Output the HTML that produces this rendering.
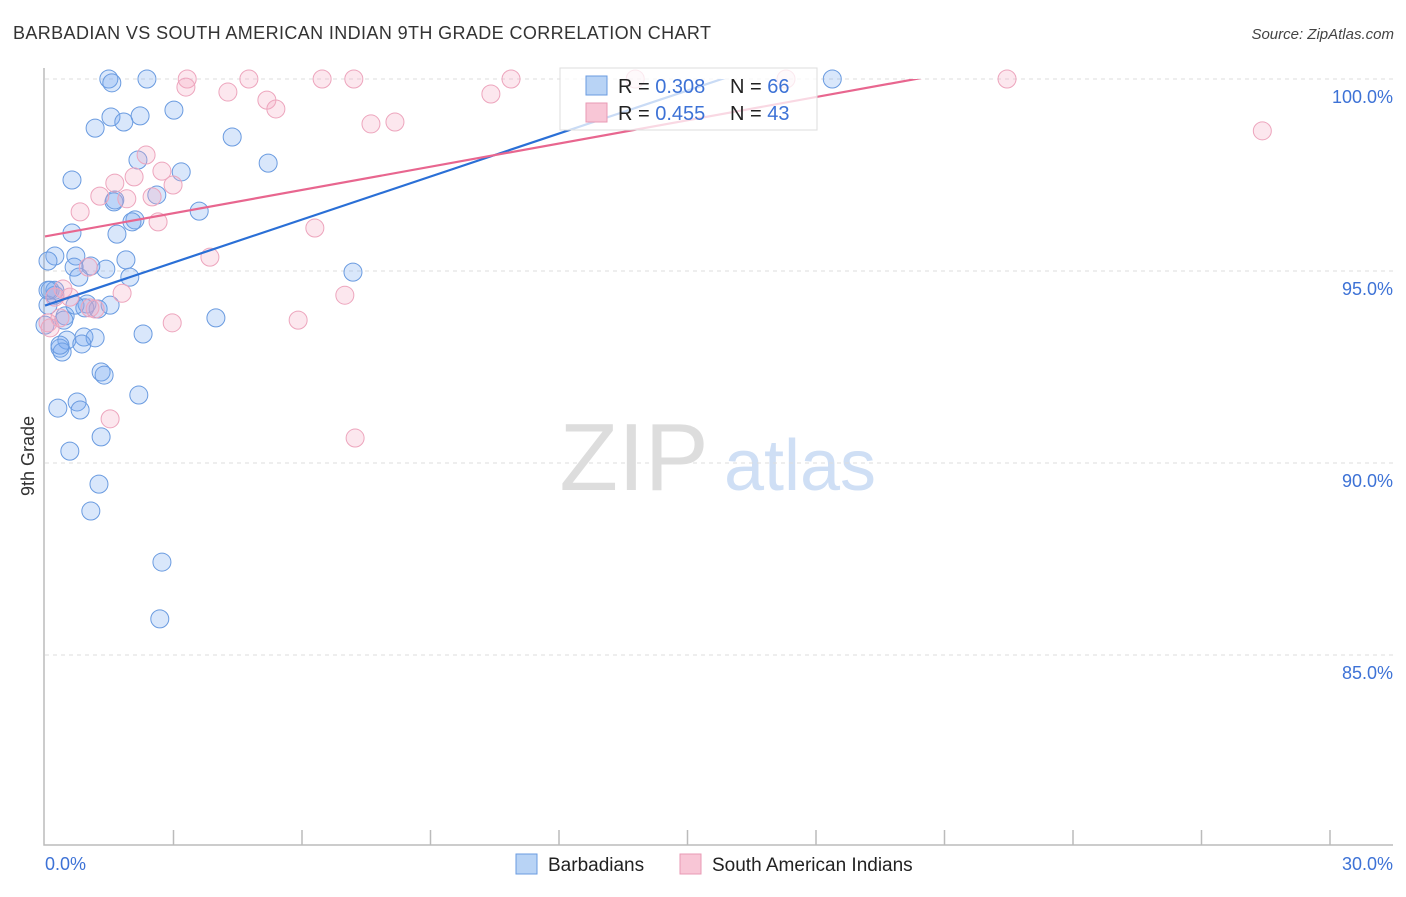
<!DOCTYPE html>
<html><head><meta charset="utf-8"><style>
body{margin:0;background:#fff;font-family:"Liberation Sans",sans-serif;}
svg text{font-family:"Liberation Sans",sans-serif;}
</style></head><body>
<svg id="chart" width="1406" height="892">
<text x="13" y="39" font-size="18" fill="#333" textLength="698">BARBADIAN VS SOUTH AMERICAN INDIAN 9TH GRADE CORRELATION CHART</text>
<text x="1394" y="39" font-size="15" font-style="italic" fill="#444" text-anchor="end">Source: ZipAtlas.com</text>
<text x="34" y="456" font-size="18" fill="#333" text-anchor="middle" transform="rotate(-90 34 456)">9th Grade</text>
<g><text x="634" y="490" font-size="96" font-family="Liberation Serif" fill="#ddd" text-anchor="middle">ZIP</text><text x="800" y="490" font-size="72" fill="#cfdff5" text-anchor="middle">atlas</text></g>
<g id="grid"></g><g id="axes"></g><g id="pts"></g><g id="lines"></g>
<g>
<rect x="560" y="68" width="257" height="62" fill="rgba(255,255,255,0.75)" stroke="#ddd"/>
<rect x="586" y="76" width="21" height="19" fill="#b8d3f5" stroke="#6a9be0"/>
<rect x="586" y="103" width="21" height="19" fill="#f8c6d6" stroke="#e89ab4"/>
<text x="618" y="93" font-size="20" fill="#222">R = <tspan fill="#3d72d6">0.308</tspan></text>
<text x="730" y="93" font-size="20" fill="#222">N = <tspan fill="#3d72d6">66</tspan></text>
<text x="618" y="120" font-size="20" fill="#222">R = <tspan fill="#3d72d6">0.455</tspan></text>
<text x="730" y="120" font-size="20" fill="#222">N = <tspan fill="#3d72d6">43</tspan></text>
</g>
<g>
<rect x="516" y="854" width="21" height="20" fill="#b8d3f5" stroke="#6a9be0"/>
<text x="548" y="871" font-size="19" fill="#222">Barbadians</text>
<rect x="680" y="854" width="21" height="20" fill="#f8c6d6" stroke="#e89ab4"/>
<text x="712" y="871" font-size="19" fill="#222">South American Indians</text>
</g>
</svg>
<script>
const xTicks=[0,3,6,9,12,15,18,21,24,27,30];
const yTicks=[85,90,95,100];
const yTickLabels=["85.0%","90.0%","95.0%","100.0%"];
const blueX=[1.49,1.56,2.38,18.38,1.54,2.22,1.17,1.84,3.01,4.37,5.21,2.17,3.18,0.63,1.61,2.61,3.6,2.1,1.68,0.63,2.03,0.23,0.72,0.07,1.89,1.42,1.07,0.68,0.79,1.98,7.19,0.12,0.23,0.98,1.24,0.93,0.47,0.44,0.91,0.51,1.17,0.86,0.35,0.4,2.29,3.99,1.31,1.38,0.75,0.3,0.82,2.19,1.31,0.58,1.26,1.07,2.73,2.68,0.07,0.23,0,1.52,1.63,0.35,0.7,0.07];
const blueY=[100,99.9,100,100,99.01,99.04,98.72,98.88,99.19,98.49,97.81,97.89,97.58,97.37,96.8,96.98,96.56,96.33,95.96,95.99,96.28,95.39,95.39,95.26,95.29,95.05,95.13,95.1,94.84,94.84,94.97,94.5,94.37,94.14,94.01,94.04,93.83,93.72,93.28,93.2,93.26,93.1,92.99,92.89,93.36,93.78,92.37,92.29,91.59,91.43,91.38,91.77,90.68,90.31,89.45,88.75,87.42,85.94,94.11,94.5,93.59,94.11,96.85,93.07,94.11,94.5];
const pinkX=[3.32,4.76,6.47,7.21,10.88,13.78,17.3,22.46,3.29,4.27,5.18,5.39,10.41,7.61,8.17,28.42,2.36,2.73,2.08,1.63,2.99,1.28,1.91,2.5,0.82,2.64,6.3,3.85,1.01,1.8,7.0,0.42,0.23,2.97,5.91,1.52,7.24,0.07,0.35,1.05,0.58,0.12,1.17];
const pinkY=[100,100,100,100,100,100,100,100,99.79,99.66,99.45,99.22,99.61,98.83,98.88,98.65,98.02,97.6,97.45,97.29,97.24,96.95,96.88,96.93,96.54,96.28,96.12,95.36,95.1,94.42,94.37,94.53,94.32,93.65,93.72,91.15,90.65,93.65,93.78,94.04,94.32,93.52,94.01];
const blueLine=[0,94.1,30,105.3];
const pinkLine=[0,95.9,30,101.95];
const X=v=>45+v*(1285/30), Y=v=>79+(100-v)*(192/5);
const NS="http://www.w3.org/2000/svg";
function mk(tag,attrs,parent){const e=document.createElementNS(NS,tag);for(const k in attrs)e.setAttribute(k,attrs[k]);document.getElementById(parent).appendChild(e);return e;}
yTicks.forEach((t,i)=>{
 const g=mk('line',{x1:45,x2:1393,y1:Y(t),y2:Y(t),stroke:'#ddd','stroke-dasharray':'4,4'},'grid');
 
 
 const l=mk('text',{x:1393,y:Y(t)+24,'font-size':18,fill:'#3d72d6','text-anchor':'end'},'axes');
 l.textContent=yTickLabels[i];
 
 
});
const ax=mk('path',{d:'M44 68V845H1393',fill:'none',stroke:'#bbb','stroke-width':1.5},'axes');


xTicks.forEach(t=>{
 if(t===0)return;
 const k=mk('line',{x1:X(t),x2:X(t),y1:830,y2:845,stroke:'#bbb','stroke-width':1.5},'axes');
 
 
});
const x0=mk('text',{x:45,y:870,'font-size':18,fill:'#3d72d6'},'axes');x0.textContent='0.0%';


const x1=mk('text',{x:1393,y:870,'font-size':18,fill:'#3d72d6','text-anchor':'end'},'axes');x1.textContent='30.0%';


blueX.forEach((v,i)=>{
 const c=mk('circle',{cx:X(v),cy:Y(blueY[i]),r:9,fill:'rgba(120,170,240,0.28)',stroke:'#6a9be0','stroke-width':1},'pts');
 
 
});
pinkX.forEach((v,i)=>{
 const c=mk('circle',{cx:X(v),cy:Y(pinkY[i]),r:9,fill:'rgba(245,170,195,0.28)',stroke:'#eda5bd','stroke-width':1},'pts');
 
 
});
const cp=mk('clipPath',{id:'clip'},'lines');
const r=document.createElementNS(NS,'rect');r.setAttribute('x',44);r.setAttribute('y',79);r.setAttribute('width',1350);r.setAttribute('height',770);cp.appendChild(r);
const bl=mk('line',{x1:X(blueLine[0]),y1:Y(blueLine[1]),x2:X(blueLine[2]),y2:Y(blueLine[3]),stroke:'#2a6fd6','stroke-width':2.2,'clip-path':'url(#clip)'},'lines');


const pl=mk('line',{x1:X(pinkLine[0]),y1:Y(pinkLine[1]),x2:X(pinkLine[2]),y2:Y(pinkLine[3]),stroke:'#e8668f','stroke-width':2.2,'clip-path':'url(#clip)'},'lines');


</script>
</body></html>
